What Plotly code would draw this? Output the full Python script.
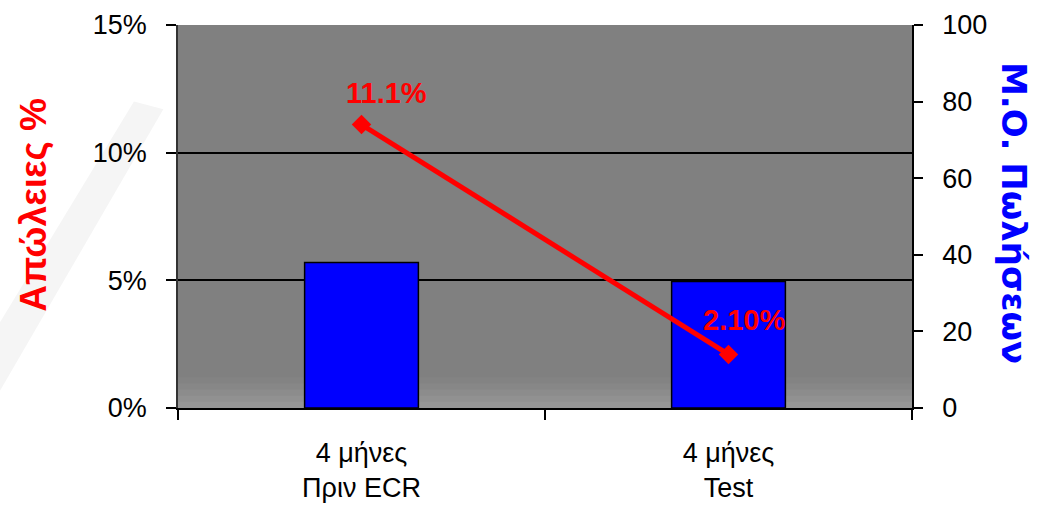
import plotly.graph_objects as go

# Categories (two 4-month periods)
categories = ["4 μήνες<br>Πριν ECR", "4 μήνες<br>Test"]
# Average sales (right axis)
avg_sales = [38, 33]
# Loss rate (left axis)
loss_rate = [0.111, 0.021]
loss_labels = ["11.1%", "2.10%"]

left_ticks = [0, 0.05, 0.10, 0.15]
right_ticks = [0, 20, 40, 60, 80, 100]

TICK_FONT = dict(family="Liberation Sans, Arial, sans-serif", size=27, color="black")

fig = go.Figure()

# bars on the primary (right-hand) axis so the line overlay sits above them
fig.add_trace(go.Bar(
    x=categories, y=avg_sales, yaxis="y",
    marker=dict(color="#0000FF", line=dict(color="black", width=1.5)),
    showlegend=False, hoverinfo="skip",
))

fig.add_trace(go.Scatter(
    x=categories, y=loss_rate, yaxis="y2",
    mode="lines+markers",
    line=dict(color="#FF0000", width=5),
    marker=dict(symbol="diamond", size=15, color="#FF0000"),
    showlegend=False, hoverinfo="skip",
))

# value labels for the loss line
label_offsets = [(25, 32), (15, 34)]
for cat, val, txt, (dx, dy) in zip(categories, loss_rate, loss_labels, label_offsets):
    fig.add_annotation(
        x=cat, y=val, xref="x", yref="y2", text=txt, showarrow=False,
        xshift=dx, yshift=dy,
        font=dict(family="Liberation Sans, Arial, sans-serif", size=29, color="#FF0000", weight="bold"),
    )

# axis titles
fig.add_annotation(
    x=-0.198, y=0.53, xref="paper", yref="paper", text="<b>Απώλειες %</b>",
    textangle=-90, showarrow=False, xanchor="center", yanchor="middle",
    font=dict(family="Liberation Sans, Arial, sans-serif", size=37, color="#FF0000"),
)
fig.add_annotation(
    x=1.140, y=0.51, xref="paper", yref="paper", text="<b>Μ.Ο. Πωλήσεων</b>",
    textangle=90, showarrow=False, xanchor="center", yanchor="middle",
    font=dict(family="DejaVu Sans, Verdana, sans-serif", size=34, color="#0000FF"),
)

# faint light streak on the page background
fig.add_shape(type="path", xref="paper", yref="paper", layer="below",
              path="M -0.25 0.2 L -0.06 0.8 L -0.02 0.78 L -0.25 0.02 Z",
              fillcolor="#f5f5f5", line=dict(width=0))

# soft lighter band at the bottom of the plotting area
band_colors = ["#838383", "#878787", "#8c8c8c", "#919191", "#969696"]
for i, c in enumerate(band_colors):
    fig.add_shape(type="rect", xref="x domain", yref="y domain", layer="below",
                  x0=0, x1=1, y0=0, y1=0.08 - i * 0.016,
                  fillcolor=c, line=dict(width=0))

fig.update_layout(
    width=1039, height=505,
    margin=dict(l=178, r=127, t=25, b=97),
    paper_bgcolor="white",
    plot_bgcolor="#808080",
    bargap=0.69,
    xaxis=dict(
        type="category", tickson="boundaries", automargin=False,
        showline=True, linecolor="black", linewidth=1.5,
        ticks="outside", ticklen=10, tickcolor="black", tickwidth=1.5,
        tickfont=TICK_FONT, showgrid=False,
        range=[-0.5, 1.5], ticklabelstandoff=20,
    ),
    yaxis=dict(
        range=[0, 100], tickvals=right_ticks, side="right", automargin=False,
        showgrid=False, zeroline=False,
        showline=True, linecolor="black", linewidth=1.5,
        ticks="outside", ticklen=9, tickcolor="black", tickwidth=1.5,
        tickfont=TICK_FONT, ticklabelstandoff=14,
    ),
    yaxis2=dict(
        range=[0, 0.15], tickvals=left_ticks, tickformat=".0%",
        overlaying="y", side="left", automargin=False,
        showgrid=True, gridcolor="black", gridwidth=1.5,
        showline=True, linecolor="#333333", linewidth=1.5,
        ticks="outside", ticklen=10, tickcolor="black", tickwidth=1.5,
        tickfont=TICK_FONT, zeroline=False, ticklabelstandoff=14,
    ),
    yaxis3=dict(
        range=[0, 100], tickvals=right_ticks, overlaying="y", side="right",
        anchor="x", showgrid=False, zeroline=False, showline=False,
        ticks="inside", ticklen=10, tickcolor="black", tickwidth=1.5,
        showticklabels=False, automargin=False,
    ),
)

fig.write_html("out.html")
